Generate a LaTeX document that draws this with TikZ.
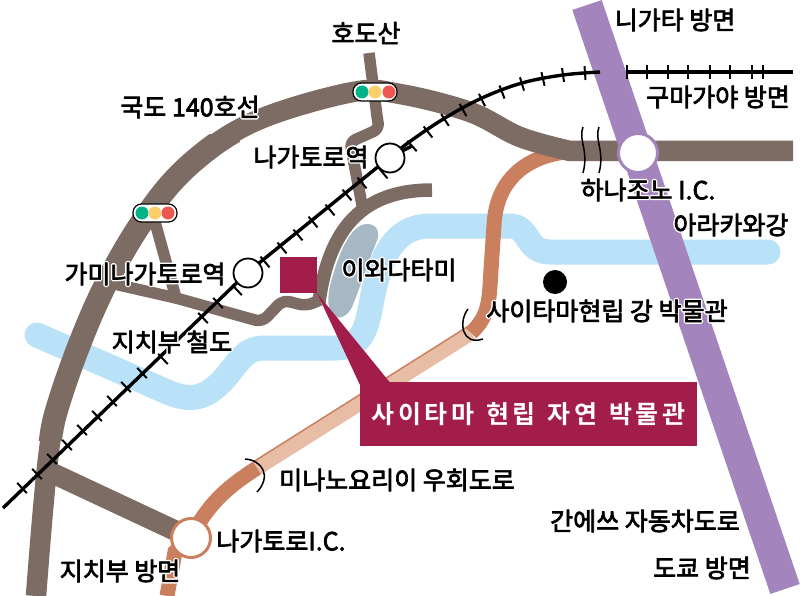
\documentclass[tikz,border=0pt]{standalone}
\usepackage{fontspec}
\setmainfont{Noto Sans CJK KR}
\newfontfamily\titlefont[LetterSpace=14,WordSpace=1.3]{Noto Sans CJK KR Bold}
\definecolor{roadbrown}{HTML}{7D6C63}
\definecolor{tollpurple}{HTML}{A484BC}
\definecolor{bypass}{HTML}{CA7F5E}
\definecolor{bypasslight}{HTML}{E8BDA6}
\definecolor{river}{HTML}{B9E1F8}
\definecolor{marsh}{HTML}{A5B8C4}
\definecolor{museum}{HTML}{A31D4A}
\definecolor{signalgreen}{HTML}{00B388}
\definecolor{signalyellow}{HTML}{FBD06A}
\definecolor{signalred}{HTML}{EE5650}
\newcommand{\halotext}[1]{\fontsize{25}{29}\selectfont\makebox[0pt][l]{\color{white}\special{pdf:code 2 Tr 3.6 w 1 j}#1\special{pdf:code 0 Tr}}\special{pdf:code 0 0 0 RG 2 Tr 0.7 w}#1\special{pdf:code 0 Tr}}
\newcommand{\routeline}{plot[smooth, tension=0.6] coordinates {(36, 596) (48, 459) (61, 396) (100, 296) (148, 213) (195, 160) (258, 120) (353, 92) (400, 94) (470, 112) (520, 137) (570, 151)} -- (793, 151)}
\tikzset{
	road/.style={draw=roadbrown, line width=20.5pt},
	sideroad/.style={draw=roadbrown, line width=11.5pt, line join=round},
	rail/.style={draw=black, line width=3.4pt},
	tie/.style={draw=black, line width=2pt},
	breakline/.style={draw=black, line width=1.5pt},
	station/.style={circle, draw=black, fill=white, line width=1.8pt, minimum size=29pt, inner sep=0pt},
	interchange/.style={circle, fill=white, line width=3pt, minimum size=39pt, inner sep=0pt},
	signalbox/.style={rounded corners=8.5pt, draw=black, fill=white, line width=1.2pt, minimum width=44pt, minimum height=18pt},
	lamp/.style={circle, minimum size=13pt, inner sep=0pt},
	maplabel/.style={inner sep=0pt}
}

\begin{document}
\begin{tikzpicture}[x=1pt, y=-1pt]
	\useasboundingbox (0, 0) rectangle (800, 596);

	% river
	\draw[draw=river, line width=25pt, line cap=round, line join=round] (37, 335) -- (165, 391) .. controls (190, 402) and (205, 400) .. (225, 378) .. controls (240, 360) and (245, 348) .. (265, 348) -- (335, 348) .. controls (358, 348) and (365, 335) .. (370, 310) .. controls (378, 265) and (390, 226) .. (430, 226) -- (510, 226) .. controls (530, 226) and (525, 252) .. (550, 252) -- (768, 252);
	\draw[fill=marsh, draw=none] (367, 224) .. controls (377, 224) and (381, 232) .. (376, 243) .. controls (368, 262) and (362, 282) .. (354, 302) .. controls (350, 316) and (338, 322) .. (332, 314) .. controls (326, 306) and (328, 290) .. (333, 275) .. controls (340, 250) and (352, 224) .. (367, 224) -- cycle;

	% bypass
	\coordinate (lightstart) at (471, 333);
	\coordinate (lightend) at (257, 468);
	\draw[draw=bypasslight, line width=15pt] (lightstart) -- (lightend);
	\draw[draw=bypass, line width=1.5pt] ([shift={(-3.8, -6.1)}]lightstart) -- ([shift={(-3.8, -6.1)}]lightend);
	\draw[draw=bypass, line width=15pt] (lightstart) .. controls (490, 315) and (489, 300) .. (491, 270) -- (494, 225) .. controls (496, 185) and (520, 158) .. (565, 152);
	\draw[draw=bypass, line width=15pt] (lightend) .. controls (232, 484) and (208, 502) .. (191, 538) -- (175, 552) -- (167, 596);

	% roads
	\draw[road] \routeline;
	\begin{scope}
		\clip (0, 135) rectangle (240, 440);
		\draw[road, line width=23pt] \routeline;
	\end{scope}
	\draw[road] (50, 472) -- (191, 538);
	\draw[sideroad] (369, 53) -- (377, 116) [rounded corners=6pt] -- (379, 129) -- (350, 142) -- (362, 205);
	\draw[sideroad] (155, 222) -- (176, 298);
	\draw[sideroad, rounded corners=7pt] (110, 283) -- (176, 298) -- (262, 322) -- (283, 300) -- (306, 306) -- (320, 300);
	\draw[sideroad, line width=13.5pt] (432, 190) .. controls (370, 190) and (330, 220) .. (319, 302);

	% toll road
	\draw[draw=tollpurple, line width=31pt] (587, 5) -- (785, 589);

	% railway
	\draw[rail] (3, 508) -- (248, 272) -- (390, 157) -- (412, 146);
	\draw[rail] plot[smooth, tension=0.6] coordinates {(390, 157) (412, 140) (445, 118) (482, 98) (522, 83) (563, 75) (600, 72)};
	\draw[rail] (627, 72) -- (793, 72);
	\foreach \tx/\ty/\ta in {627/72/0, 647/72/0, 668/72/0, 688/72/0, 710/72/0, 730/72/0, 752/72/0, 763/72/0,
		585/73/4, 563/75/8, 543/79/13, 522/84/17, 502/92/21, 482/100/26, 463/110/29, 445/120/33, 428/132/38, 412/146/42, 383/173/40,
		362/183/40, 347/195/40, 330/210/40, 313/222/40, 298/235/40, 282/248/40, 265/262/40, 237/290/43,
		218/303/43, 203/318/43, 163/359/43, 142/373/43, 126/387/43, 112/401/43, 97/416/43, 82/430/43, 67/445/43, 52/459/43, 37/474/43, 22/488/43}
		\draw[tie, shift={(\tx, \ty)}, rotate=\ta] (0, -7) -- (0, 7);

	% breaks and ends
	\draw[breakline] (583, 127) .. controls (578, 140) and (589, 150) .. (583, 173);
	\draw[breakline] (599, 127) .. controls (594, 140) and (605, 150) .. (599, 173);
	\draw[breakline] (245, 459) .. controls (262, 460) and (272, 476) .. (257, 492);
	\draw[breakline] (468, 309) .. controls (458, 322) and (462, 346) .. (483, 339);

	% callout
	\draw[fill=museum, draw=none] (280, 257) rectangle (317, 293);
	\draw[fill=museum, draw=none] (317, 293) -- (392, 385) -- (360, 385) -- cycle;
	\node[fill=museum, minimum width=337pt, minimum height=64pt, inner sep=0pt] (museumbox) at (528.5, 414) {\color{white}\titlefont\fontsize{25}{28}\selectfont 사이타마 현립 자연 박물관};

	% stations
	\node[station] (kaminagatoro) at (248, 273) {};
	\node[station] (nagatoro) at (390, 158) {};
	\node[interchange, draw=tollpurple] (hanazono) at (638, 153) {};
	\node[interchange, draw=bypass] (nagatoroic) at (191, 538) {};
	\fill[black] (555, 282) circle (12);

	% signals
	\node[signalbox] (signalleft) at (155, 213) {};
	\node[lamp, fill=signalgreen] (leftgreen) at (142, 213) {};
	\node[lamp, fill=signalyellow] (leftyellow) at (155, 213) {};
	\node[lamp, fill=signalred] (leftred) at (168, 213) {};
	\node[signalbox] (signalright) at (375, 92) {};
	\node[lamp, fill=signalgreen] (rightgreen) at (362, 92) {};
	\node[lamp, fill=signalyellow] (rightyellow) at (375, 92) {};
	\node[lamp, fill=signalred] (rightred) at (389, 92) {};

	% labels
	\node[maplabel] (hodosan) at (366, 33) {\halotext{호도산}};
	\node[maplabel] (route) at (190, 107) {\halotext{국도 140호선}};
	\node[maplabel] (nagatorolabel) at (311, 157) {\halotext{나가토로역}};
	\node[maplabel] (kamilabel) at (145, 274) {\halotext{가미나가토로역}};
	\node[maplabel] (iwadatami) at (399, 270) {\halotext{이와다타미}};
	\node[maplabel] (chichiburail) at (172, 342) {\halotext{지치부 철도}};
	\node[maplabel] (niigata) at (675, 20) {\halotext{니가타 방면}};
	\node[maplabel] (kumagaya) at (718, 97) {\halotext{구마가야 방면}};
	\node[maplabel] (hanazonolabel) at (648, 190) {\halotext{하나조노 I.C.}};
	\node[maplabel] (arakawa) at (731, 225) {\halotext{아라카와강}};
	\node[maplabel] (rivermuseum) at (607, 311) {\halotext{사이타마현립 강 박물관}};
	\node[maplabel] (bypasslabel) at (397, 480) {\halotext{미나노요리이 우회도로}};
	\node[maplabel] (nagatoroiclabel) at (281, 541) {\halotext{나가토로I.C.}};
	\node[maplabel] (chichibu) at (120, 571) {\halotext{지치부 방면}};
	\node[maplabel] (kanetsu) at (645, 521) {\halotext{간에쓰 자동차도로}};
	\node[maplabel] (tokyo) at (702, 568) {\halotext{도쿄 방면}};
\end{tikzpicture}
\end{document}
